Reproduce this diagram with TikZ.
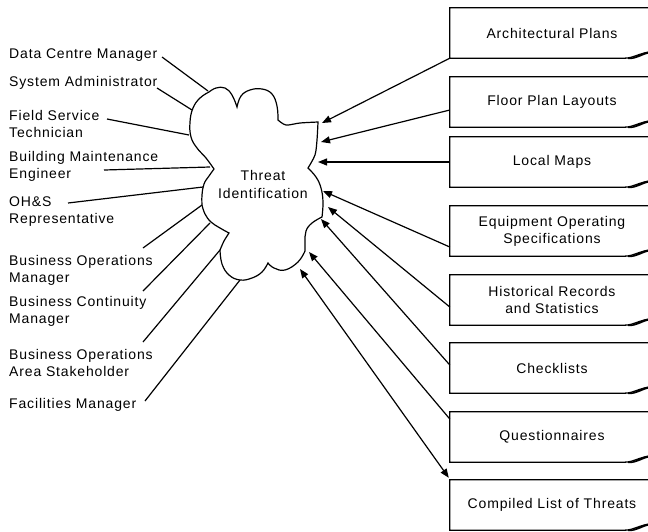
\documentclass[tikz,border=0pt]{standalone}
\usepackage{fontspec}
\setmainfont{Liberation Sans}[LetterSpace=6.0]
\usetikzlibrary{arrows.meta,calc}
\begin{document}
\begin{tikzpicture}[x=1pt,y=-1pt,
  lbl/.style={anchor=west,align=left,inner sep=0pt,font=\fontsize{14}{17}\selectfont},
  docbox/.style={minimum width=204pt,minimum height=50pt,inner sep=0pt,align=center,font=\fontsize{14}{17}\selectfont},
  ttl/.style={inner sep=0pt,align=center,font=\fontsize{14}{18}\selectfont},
  ln/.style={line width=1.2pt},
  arr/.style={ln,-{Triangle[length=9pt,width=7pt]}},
  dbl/.style={ln,{Triangle[length=9pt,width=7pt]}-{Triangle[length=9pt,width=7pt]}},
  docline/.style={line width=1.3pt}
]
\useasboundingbox (0,0) rectangle (648,531);

% cloud
\draw[ln] plot[smooth,tension=0.7] coordinates {(209,92)(216,88)(225,88)(232,95)(237,107)}
 -- plot[smooth,tension=0.7] coordinates {(237,107)(241,96)(250,90)(262,89)(272,94)(277,106)(278,120)}
 -- plot[smooth,tension=0.5] coordinates {(278,120)(286,125)(300,123)(318,122)}
 -- plot[smooth,tension=0.5] coordinates {(318,122)(317,140)(315,155)(308,168)}
 -- plot[smooth,tension=0.7] coordinates {(308,168)(316,177)(321,188)(323,202)(322,217)}
 -- plot[smooth,tension=0.7] coordinates {(322,217)(312,223)(306,231)(305,242)(305,251)}
 -- plot[smooth,tension=0.7] coordinates {(305,251)(298,262)(285,270)(274,268)(268,263)}
 -- plot[smooth,tension=0.7] coordinates {(268,263)(262,272)(252,278)(240,280)(229,275)(222,264)(220,250)}
 -- plot[smooth,tension=0.5] coordinates {(220,250)(224,241)(229,233)}
 -- plot[smooth,tension=0.7] coordinates {(229,233)(220,228)(211,222)(205,214)(202,205)}
 -- plot[smooth,tension=0.7] coordinates {(202,205)(202,195)(204,184)(209,176)(214,169)}
 -- plot[smooth,tension=0.7] coordinates {(214,169)(206,158)(197,148)(191,137)(190,122)(193,108)(200,98)(209,92)} -- cycle;

\node[ttl] (threat) at (263,184) {Threat\\Identification};

% cloud attachment points
\coordinate (e1) at (208,91);
\coordinate (e2) at (192,110);
\coordinate (e3) at (189,135);
\coordinate (e4) at (210,167);
\coordinate (e5) at (203,187);
\coordinate (e6) at (202,205);
\coordinate (e7) at (210,223);
\coordinate (e8) at (220,250);
\coordinate (e9) at (240,280);
\coordinate (c1) at (322,123);
\coordinate (c2) at (321,142);
\coordinate (c3) at (318,162);
\coordinate (c4) at (323,191);
\coordinate (c5) at (328,207);
\coordinate (c6) at (321,219);
\coordinate (c7) at (309,252);
\coordinate (c8) at (300,269);

% left labels
\node[lbl] (lab1) at (9,55) {Data Centre Manager};
\node[lbl] (lab2) at (9,83) {System Administrator};
\node[lbl] (lab3) at (9,124) {Field Service\\Technician};
\node[lbl] (lab4) at (9,166) {Building Maintenance\\Engineer};
\node[lbl] (lab5) at (9,212) {OH\&S\\Representative};
\node[lbl] (lab6) at (9,270) {Business Operations\\Manager};
\node[lbl] (lab7) at (9,311) {Business Continuity\\Manager};
\node[lbl] (lab8) at (9,363) {Business Operations\\Area Stakeholder};
\node[lbl] (lab9) at (9,405) {Facilities Manager};

\coordinate (s1) at (162,57);
\coordinate (s2) at (157,88);
\coordinate (s3) at (107,119);
\coordinate (s4) at (104,170);
\coordinate (s5) at (68,203);
\coordinate (s6) at (143,248);
\coordinate (s7) at (143,291);
\coordinate (s8) at (143,342);
\coordinate (s9) at (145,401);

\foreach \i in {1,...,9}{\draw[ln] (s\i) -- (e\i);}

% document boxes
\node[docbox] (b1) at (552,33) {Architectural Plans};
\node[docbox] (b2) at (552,102) {Floor Plan Layouts};
\node[docbox] (b3) at (552,162) {Local Maps};
\node[docbox] (b4) at (552,231) {Equipment Operating\\Specifications};
\node[docbox] (b5) at (552,300) {Historical Records\\and Statistics};
\node[docbox] (b6) at (552,368) {Checklists};
\node[docbox] (b7) at (552,437) {Questionnaires};
\node[docbox] (b8) at (552,505) {Compiled List of Threats};

\foreach \b in {b1,b2,b3,b4,b5,b6,b7,b8}{
  \draw[docline] (\b.north east) -- (\b.north west) -- (\b.south west)
    -- ($(\b.south east)+(-30,0)$)
    .. controls ($(\b.south east)+(-20,0)$) and ($(\b.south east)+(-16,-5)$) .. ($(\b.south east)+(-4,-6)$);
  \fill ($(\b.south east)+(-26,0)$)
    .. controls ($(\b.south east)+(-16,-1)$) and ($(\b.south east)+(-14,-6)$) .. ($(\b.south east)+(-4,-7)$)
    -- ($(\b.south east)+(-4,-5)$)
    .. controls ($(\b.south east)+(-14,-3)$) and ($(\b.south east)+(-16,1)$) .. ($(\b.south east)+(-26,1)$) -- cycle;
}

% arrows
\draw[arr] (b1.south west) -- (c1);
\draw[arr] ($(b2.west)+(0,8)$) -- (c2);
\draw[arr] (b3.west) -- (c3);
\draw[arr] ($(b4.west)+(0,16)$) -- (c4);
\draw[arr] ($(b5.west)+(0,7)$) -- (c5);
\draw[arr] ($(b6.west)+(0,-3)$) -- (c6);
\draw[arr] ($(b7.west)+(0,-18)$) -- (c7);
\draw[dbl] (c8) -- ($(b8.north west)+(-1,-2)$);
\end{tikzpicture}
\end{document}
